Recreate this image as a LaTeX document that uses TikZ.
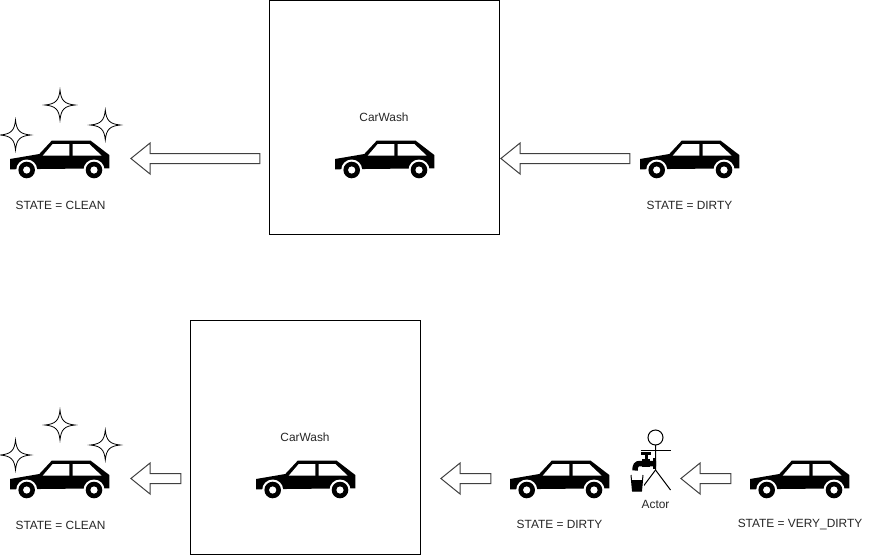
\documentclass[tikz,border=0pt]{standalone}
\usepackage{fontspec}
\setmainfont{Liberation Sans}
\usetikzlibrary{shapes.arrows}

\begin{document}
\begin{tikzpicture}[x=1pt, y=-1pt, >=latex, line width=1pt]
	\tikzstyle{washbox} = [draw=black, minimum width=230pt, minimum height=234pt, inner sep=0pt]
	\tikzstyle{label} = [draw=none, font=\fontsize{11.9}{14}\selectfont, text=black!85, inner sep=0pt]
	\tikzstyle{longarrow} = [draw=black!75, single arrow, shape border rotate=180, inner xsep=0pt, inner ysep=4.5pt, single arrow head extend=10.5pt, single arrow tip angle=78, minimum height=129pt]
	\tikzstyle{shortarrow} = [longarrow, minimum height=50pt]
	\tikzset{
		car/.pic = {
			\fill[black] (0,18.3) -- (29.3,13.3) -- (41.7,0) -- (80.7,0) -- (99.3,14.3) -- (99.3,27.6) -- (0,28.6) -- cycle;
			\fill[white] (32.7,15) -- (42.7,3.3) -- (59.3,3.3) -- (59.3,15) -- cycle;
			\fill[white] (62.7,3.3) -- (79.3,3.3) -- (91.7,15) -- (62.7,15) -- cycle;
			\foreach \wx in {16.7, 84} {
				\fill[white] (\wx,29.3) circle (10.5);
				\fill[black] (\wx,29.3) circle (8.3);
				\fill[white] (\wx,29.3) circle (3.6);
			}
		},
		sparkle/.pic = {
			\draw[black, line width=.8pt, fill=white] (0,-15) .. controls (1,-4.5) and (4.5,-1) .. (15,0) .. controls (4.5,1) and (1,4.5) .. (0,15) .. controls (-1,4.5) and (-4.5,1) .. (-15,0) .. controls (-4.5,-1) and (-1,-4.5) .. cycle;
		}
	}

	\useasboundingbox (0,0) rectangle (881,555);

	% top row
	\node[washbox]		at (384.5,117.5)	(wash1)		{};
	\node[label]		at (384,117)		(washname1)	{CarWash};
	\pic				at (335,140.7)		{car};
	\pic				at (640,140.7)		{car};
	\pic				at (10,140.7)		{car};
	\pic				at (60,105)			{sparkle};
	\pic				at (105.3,125)		{sparkle};
	\pic				at (15.5,135)		{sparkle};
	\node[longarrow]	at (198.5,158.5)	(out1)		{};
	\node[longarrow]	at (568.5,158.5)	(in1)		{};
	\node[label]		at (60.5,205)		(clean1)	{STATE = CLEAN};
	\node[label]		at (689.5,205)		(dirty1)	{STATE = DIRTY};

	% bottom row
	\node[washbox]		at (305.5,437.5)	(wash2)		{};
	\node[label]		at (305,437)		(washname2)	{CarWash};
	\pic				at (256,460.7)		{car};
	\pic				at (510,460.7)		{car};
	\pic				at (750,460.7)		{car};
	\pic				at (10,460.7)		{car};
	\pic				at (60,425)			{sparkle};
	\pic				at (105.3,445)		{sparkle};
	\pic				at (15.5,455)		{sparkle};
	\node[shortarrow]	at (159,478.5)		(out2)		{};
	\node[shortarrow]	at (469,478.5)		(mid2)		{};
	\node[shortarrow]	at (709,478.5)		(in2)		{};
	\node[label]		at (60.5,525)		(clean2)	{STATE = CLEAN};
	\node[label]		at (559.5,524)		(dirty2)	{STATE = DIRTY};
	\node[label]		at (800,525)		(vdirty2)	{STATE = VERY\_DIRTY};
	\node[label]		at (655.5,504)		(actor)		{Actor};

	% actor with tap
	\draw[black] (655.5,437.5) circle (7.5);
	\draw[black] (655.5,445) -- (655.5,470) -- (640.5,490);
	\draw[black] (655.5,470) -- (670.5,490);
	\draw[black] (640.5,450) -- (670.5,450);
	\fill[black] (640.7,452) rectangle (650.7,455);
	\fill[black] (644.5,455) rectangle (647.5,460);
	\fill[black] (642,459) rectangle (650,467);
	\draw[black, line width=5.5pt] (656,463.5) -- (640,463.5) .. controls (636.5,463.5) and (635,465.5) .. (635,470.5);
	\fill[black] (653,458) rectangle (656,469);
	\fill[white] (630,474.5) rectangle (644,492);
	\draw[black] (631,475) -- (632.5,491) -- (641.5,491) -- (643,475);
	\fill[black] (631.5,480) -- (632.5,491) -- (641.5,491) -- (642.5,480) -- cycle;
\end{tikzpicture}
\end{document}
